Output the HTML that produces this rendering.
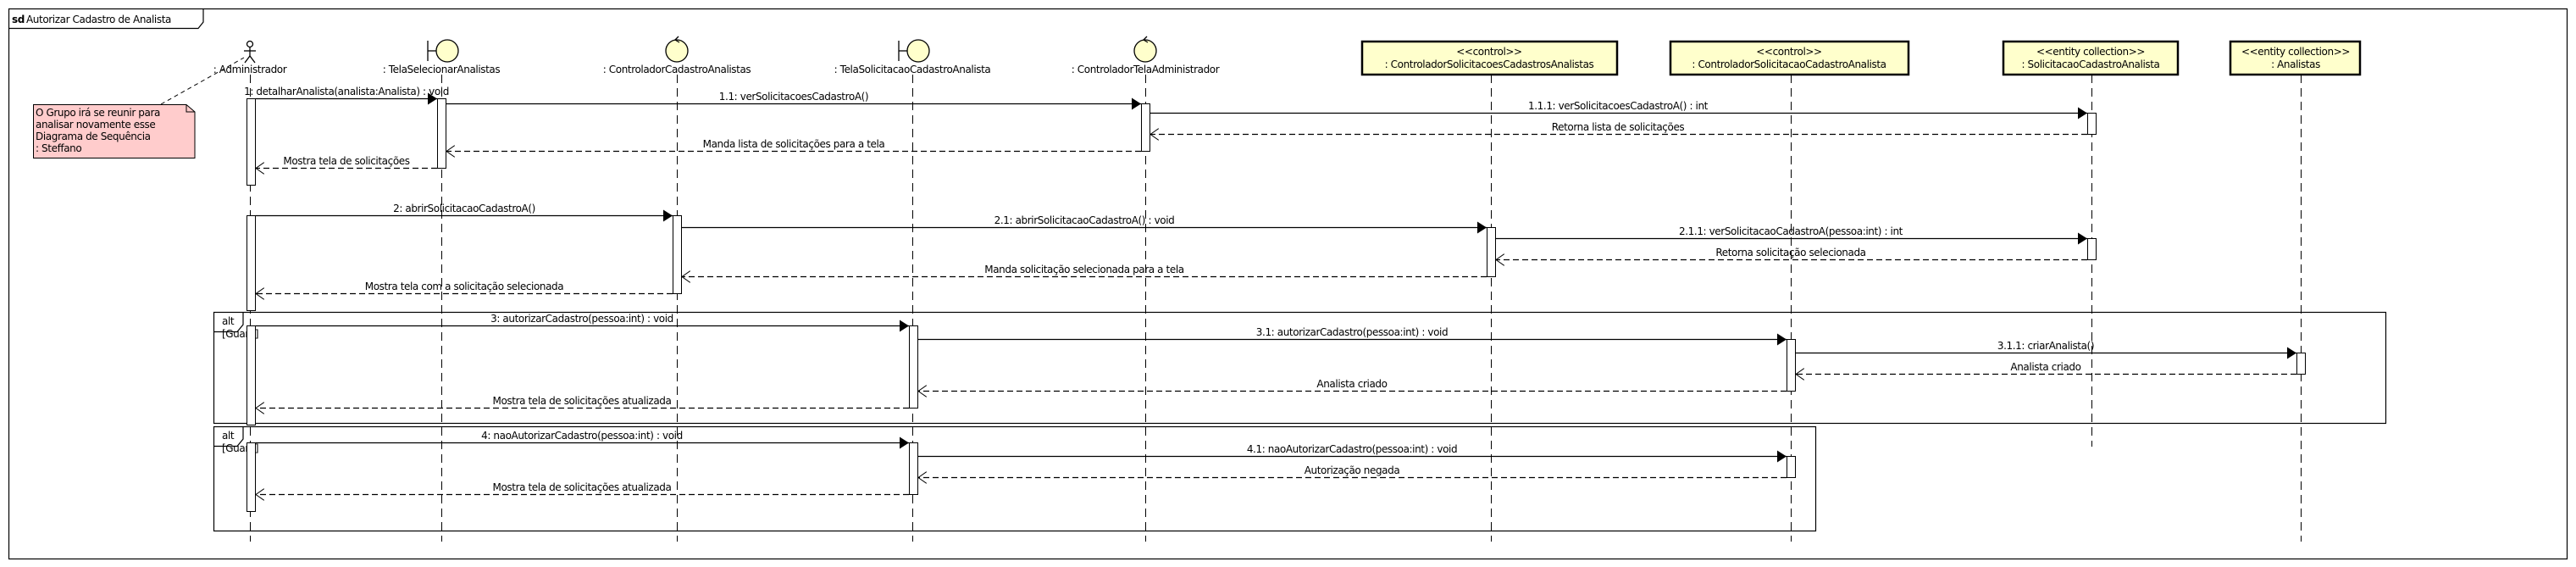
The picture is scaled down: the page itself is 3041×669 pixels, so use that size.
<!DOCTYPE html>
<html><head><meta charset="utf-8"><style>
html,body{margin:0;padding:0;background:#fff;}
svg{display:block;}
text{font-family:"DejaVu Sans","Liberation Sans",sans-serif;font-size:12px;letter-spacing:-0.4px;fill:#000;}
</style></head><body>
<svg width="3041" height="669" viewBox="0 0 3041 669" xmlns="http://www.w3.org/2000/svg">
<defs>
<marker id="fa" markerWidth="12" markerHeight="14" refX="11" refY="7" orient="auto" markerUnits="userSpaceOnUse"><path d="M0,0 L11,7 L0,14 z" fill="#000"/></marker>
<marker id="oa" markerWidth="12" markerHeight="14" refX="10" refY="7" orient="auto" markerUnits="userSpaceOnUse"><path d="M0,0 L10,7 L0,14" fill="none" stroke="#000" stroke-width="1"/></marker>
</defs>
<rect width="3041" height="669" fill="#fff"/>
<rect x="10.5" y="10.5" width="3020" height="649" fill="none" stroke="#000" stroke-width="1.2"/>
<path d="M10.5,33.5 L234,33.5 L240,26 L240,10.5" fill="none" stroke="#000" stroke-width="1.2"/>
<text x="14" y="27" style="font-weight:bold">sd</text><text x="31" y="27">Autorizar Cadastro de Analista</text>

<rect x="252.5" y="368.5" width="2564" height="131" fill="none" stroke="#000" stroke-width="1.2"/>
<path d="M252.5,391.5 L280,391.5 L287,383 L287,368.5" fill="none" stroke="#000" stroke-width="1.2"/>
<text x="262" y="383">alt</text><text x="262" y="398">[Guard]</text>
<rect x="252.5" y="503.5" width="1891" height="123" fill="none" stroke="#000" stroke-width="1.2"/>
<path d="M252.5,526.5 L280,526.5 L287,518 L287,503.5" fill="none" stroke="#000" stroke-width="1.2"/>
<text x="262" y="518">alt</text><text x="262" y="533">[Guard]</text>

<g stroke="#000" stroke-width="1" stroke-dasharray="10,6">
<line x1="295.5" y1="88" x2="295.5" y2="639"/>
<line x1="521.5" y1="88" x2="521.5" y2="639"/>
<line x1="799.5" y1="88" x2="799.5" y2="639"/>
<line x1="1077.5" y1="88" x2="1077.5" y2="639"/>
<line x1="1352.5" y1="88" x2="1352.5" y2="639"/>
<line x1="1760.5" y1="88" x2="1760.5" y2="639"/>
<line x1="2114.5" y1="88" x2="2114.5" y2="639"/>
<line x1="2469.5" y1="88" x2="2469.5" y2="527"/>
<line x1="2716.5" y1="88" x2="2716.5" y2="639"/>
</g>

<g stroke="#000" stroke-width="1.3" fill="none">
<circle cx="295" cy="52" r="3.5"/>
<line x1="295" y1="55.5" x2="295" y2="66"/>
<line x1="288" y1="60" x2="302" y2="60"/>
<line x1="295" y1="66" x2="289" y2="74"/>
<line x1="295" y1="66" x2="301" y2="74"/>
</g>
<text x="295" y="86" text-anchor="middle">: Administrador</text>

<g stroke="#000" stroke-width="1.3" fill="#FFFFCC">
<line x1="505" y1="48" x2="505" y2="72"/><line x1="505" y1="60" x2="515" y2="60"/>
<circle cx="528" cy="60" r="13"/>
<line x1="1061" y1="48" x2="1061" y2="72"/><line x1="1061" y1="60" x2="1071" y2="60"/>
<circle cx="1084" cy="60" r="13"/>
</g>
<text x="521" y="86" text-anchor="middle">: TelaSelecionarAnalistas</text>
<text x="1077" y="86" text-anchor="middle">: TelaSolicitacaoCadastroAnalista</text>

<g stroke="#000" stroke-width="1.3" fill="#FFFFCC">
<circle cx="799" cy="60" r="13"/>
<circle cx="1352" cy="60" r="13"/>
</g>
<g stroke="#000" stroke-width="1.3" fill="none">
<path d="M801,43 L797,47 L802,50"/>
<path d="M1354,43 L1350,47 L1355,50"/>
</g>
<text x="799" y="86" text-anchor="middle">: ControladorCadastroAnalistas</text>
<text x="1352" y="86" text-anchor="middle">: ControladorTelaAdministrador</text>

<g fill="#FFFFCC" stroke="#000" stroke-width="2.5">
<rect x="1608" y="49" width="301" height="39"/>
<rect x="1972" y="49" width="281" height="39"/>
<rect x="2365" y="49" width="206" height="39"/>
<rect x="2633" y="49" width="153" height="39"/>
</g>
<g text-anchor="middle">
<text x="1758" y="65">&lt;&lt;control&gt;&gt;</text><text x="1758" y="80">: ControladorSolicitacoesCadastrosAnalistas</text>
<text x="2112" y="65">&lt;&lt;control&gt;&gt;</text><text x="2112" y="80">: ControladorSolicitacaoCadastroAnalista</text>
<text x="2468" y="65">&lt;&lt;entity collection&gt;&gt;</text><text x="2468" y="80">: SolicitacaoCadastroAnalista</text>
<text x="2710" y="65">&lt;&lt;entity collection&gt;&gt;</text><text x="2710" y="80">: Analistas</text>
</g>

<line x1="190" y1="123" x2="288" y2="68" stroke="#000" stroke-width="1" stroke-dasharray="5,4"/>
<path d="M39.5,123.5 L220,123.5 L230,132 L230,186.5 L39.5,186.5 Z" fill="#FFCCCC" stroke="#000" stroke-width="1"/>
<path d="M220,123.5 L220,132 L230,132" fill="none" stroke="#000" stroke-width="1"/>
<text x="42" y="137">O Grupo irá se reunir para</text>
<text x="42" y="151">analisar novamente esse</text>
<text x="42" y="165">Diagrama de Sequência</text>
<text x="42" y="179">: Steffano</text>

<g fill="#fff" stroke="#000" stroke-width="1">
<rect x="291.5" y="116.5" width="10" height="102"/>
<rect x="291.5" y="254.5" width="10" height="112"/>
<rect x="291.5" y="384.5" width="10" height="117"/>
<rect x="291.5" y="522.5" width="10" height="81"/>
<rect x="516.5" y="116.5" width="10" height="82"/>
<rect x="794.5" y="254.5" width="10" height="92"/>
<rect x="1347.5" y="122.5" width="10" height="56"/>
<rect x="1073.5" y="384.5" width="10" height="97"/>
<rect x="1073.5" y="522.5" width="10" height="61"/>
<rect x="1755.5" y="268.5" width="10" height="58"/>
<rect x="2109.5" y="400.5" width="10" height="61"/>
<rect x="2109.5" y="538.5" width="10" height="25"/>
<rect x="2464.5" y="133.5" width="10" height="25"/>
<rect x="2464.5" y="281.5" width="10" height="25"/>
<rect x="2711.5" y="416.5" width="10" height="25"/>
</g>

<g stroke="#000" stroke-width="1.2" marker-end="url(#fa)">
<line x1="302" y1="116.5" x2="516" y2="116.5"/>
<line x1="527" y1="122.5" x2="1347" y2="122.5"/>
<line x1="1358" y1="133.5" x2="2464" y2="133.5"/>
<line x1="302" y1="254.5" x2="794" y2="254.5"/>
<line x1="805" y1="268.5" x2="1755" y2="268.5"/>
<line x1="1766" y1="281.5" x2="2464" y2="281.5"/>
<line x1="302" y1="384.5" x2="1073" y2="384.5"/>
<line x1="1084" y1="400.5" x2="2109" y2="400.5"/>
<line x1="2120" y1="416.5" x2="2711" y2="416.5"/>
<line x1="302" y1="522.5" x2="1073" y2="522.5"/>
<line x1="1084" y1="538.5" x2="2109" y2="538.5"/>
</g>
<g stroke="#000" stroke-width="1.2" stroke-dasharray="7,4" marker-end="url(#oa)">
<line x1="2464" y1="158.5" x2="1358" y2="158.5"/>
<line x1="1347" y1="178.5" x2="527" y2="178.5"/>
<line x1="516" y1="198.5" x2="302" y2="198.5"/>
<line x1="2464" y1="306.5" x2="1766" y2="306.5"/>
<line x1="1755" y1="326.5" x2="805" y2="326.5"/>
<line x1="794" y1="346.5" x2="302" y2="346.5"/>
<line x1="2711" y1="441.5" x2="2120" y2="441.5"/>
<line x1="2109" y1="461.5" x2="1084" y2="461.5"/>
<line x1="1073" y1="481.5" x2="302" y2="481.5"/>
<line x1="2109" y1="563.5" x2="1084" y2="563.5"/>
<line x1="1073" y1="583.5" x2="302" y2="583.5"/>
</g>

<g text-anchor="middle">
<text x="409" y="112">1: detalharAnalista(analista:Analista) : void</text>
<text x="937" y="118">1.1: verSolicitacoesCadastroA()</text>
<text x="1910" y="129">1.1.1: verSolicitacoesCadastroA() : int</text>
<text x="1910" y="154">Retorna lista de solicitações</text>
<text x="937" y="174">Manda lista de solicitações para a tela</text>
<text x="409" y="194">Mostra tela de solicitações</text>
<text x="548" y="250">2: abrirSolicitacaoCadastroA()</text>
<text x="1280" y="264">2.1: abrirSolicitacaoCadastroA() : void</text>
<text x="2114" y="277">2.1.1: verSolicitacaoCadastroA(pessoa:int) : int</text>
<text x="2114" y="302">Retorna solicitação selecionada</text>
<text x="1280" y="322">Manda solicitação selecionada para a tela</text>
<text x="548" y="342">Mostra tela com a solicitação selecionada</text>
<text x="687" y="380">3: autorizarCadastro(pessoa:int) : void</text>
<text x="1596" y="396">3.1: autorizarCadastro(pessoa:int) : void</text>
<text x="2415" y="412">3.1.1: criarAnalista()</text>
<text x="2415" y="437">Analista criado</text>
<text x="1596" y="457">Analista criado</text>
<text x="687" y="477">Mostra tela de solicitações atualizada</text>
<text x="687" y="518">4: naoAutorizarCadastro(pessoa:int) : void</text>
<text x="1596" y="534">4.1: naoAutorizarCadastro(pessoa:int) : void</text>
<text x="1596" y="559">Autorização negada</text>
<text x="687" y="579">Mostra tela de solicitações atualizada</text>
</g>
</svg>
</body></html>
